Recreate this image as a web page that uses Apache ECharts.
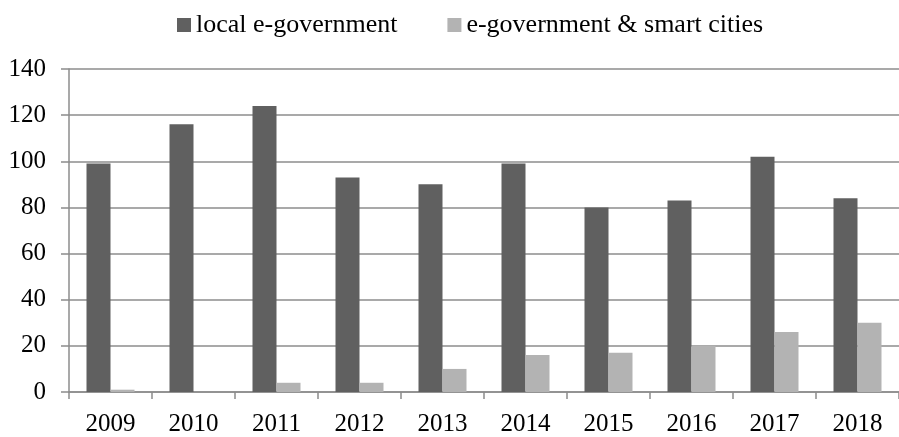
<!DOCTYPE html>
<html>
<head>
<meta charset="utf-8">
<script src="https://cdn.jsdelivr.net/npm/echarts@6/dist/echarts.min.js"></script>
<style>
html,body{margin:0;padding:0;background:#fff;}
#chart{width:899px;height:437px;}
</style>
</head>
<body>
<div id="chart"></div>
<script>
var categories = ['2009','2010','2011','2012','2013','2014','2015','2016','2017','2018'];
var localEgov = [99, 116, 124, 93, 90, 99, 80, 83, 102, 84];
var egovSmart = [1, 0, 4, 4, 10, 16, 17, 20, 26, 30];
var seriesNames = ['local e-government', 'e-government & smart cities'];

var font = '"Liberation Serif", "Times New Roman", serif';
var lineCol = '#8c8c8c';
var chart = echarts.init(document.getElementById('chart'), null, {renderer:'canvas'});
chart.setOption({
  animation: false,
  backgroundColor: '#ffffff',
  legend: {
    left: 172, top: 7,
    itemWidth: 14, itemHeight: 14, itemGap: 50,
    icon: 'rect',
    textStyle: {fontFamily: font, fontSize: 26, color: '#000'},
    data: seriesNames
  },
  grid: {left: 69, right: -9, top: 69, bottom: 44, containLabel: false},
  xAxis: {
    type: 'category',
    data: categories,
    axisLine: {lineStyle: {color: lineCol, width: 1.5}},
    axisTick: {show: true, length: 7, inside: false, alignWithLabel: false, lineStyle: {color: lineCol, width: 1.5}},
    axisLabel: {fontFamily: font, fontSize: 25, color: '#000', margin: 20, interval: 0}
  },
  yAxis: {
    type: 'value',
    min: 0, max: 140, interval: 20,
    axisLine: {show: true, lineStyle: {color: lineCol, width: 1.5}},
    axisTick: {show: true, length: 8, lineStyle: {color: lineCol, width: 1.5}},
    axisLabel: {fontFamily: font, fontSize: 25, color: '#000', margin: 23},
    splitLine: {show: true, lineStyle: {color: lineCol, width: 1.5}}
  },
  series: [
    {name: seriesNames[0], type: 'bar', data: localEgov, barWidth: 24, barGap: '0%', itemStyle: {color: '#606060'}},
    {name: seriesNames[1], type: 'bar', data: egovSmart, barWidth: 24, barGap: '0%', itemStyle: {color: '#b3b3b3'}}
  ]
});
</script>
</body>
</html>
